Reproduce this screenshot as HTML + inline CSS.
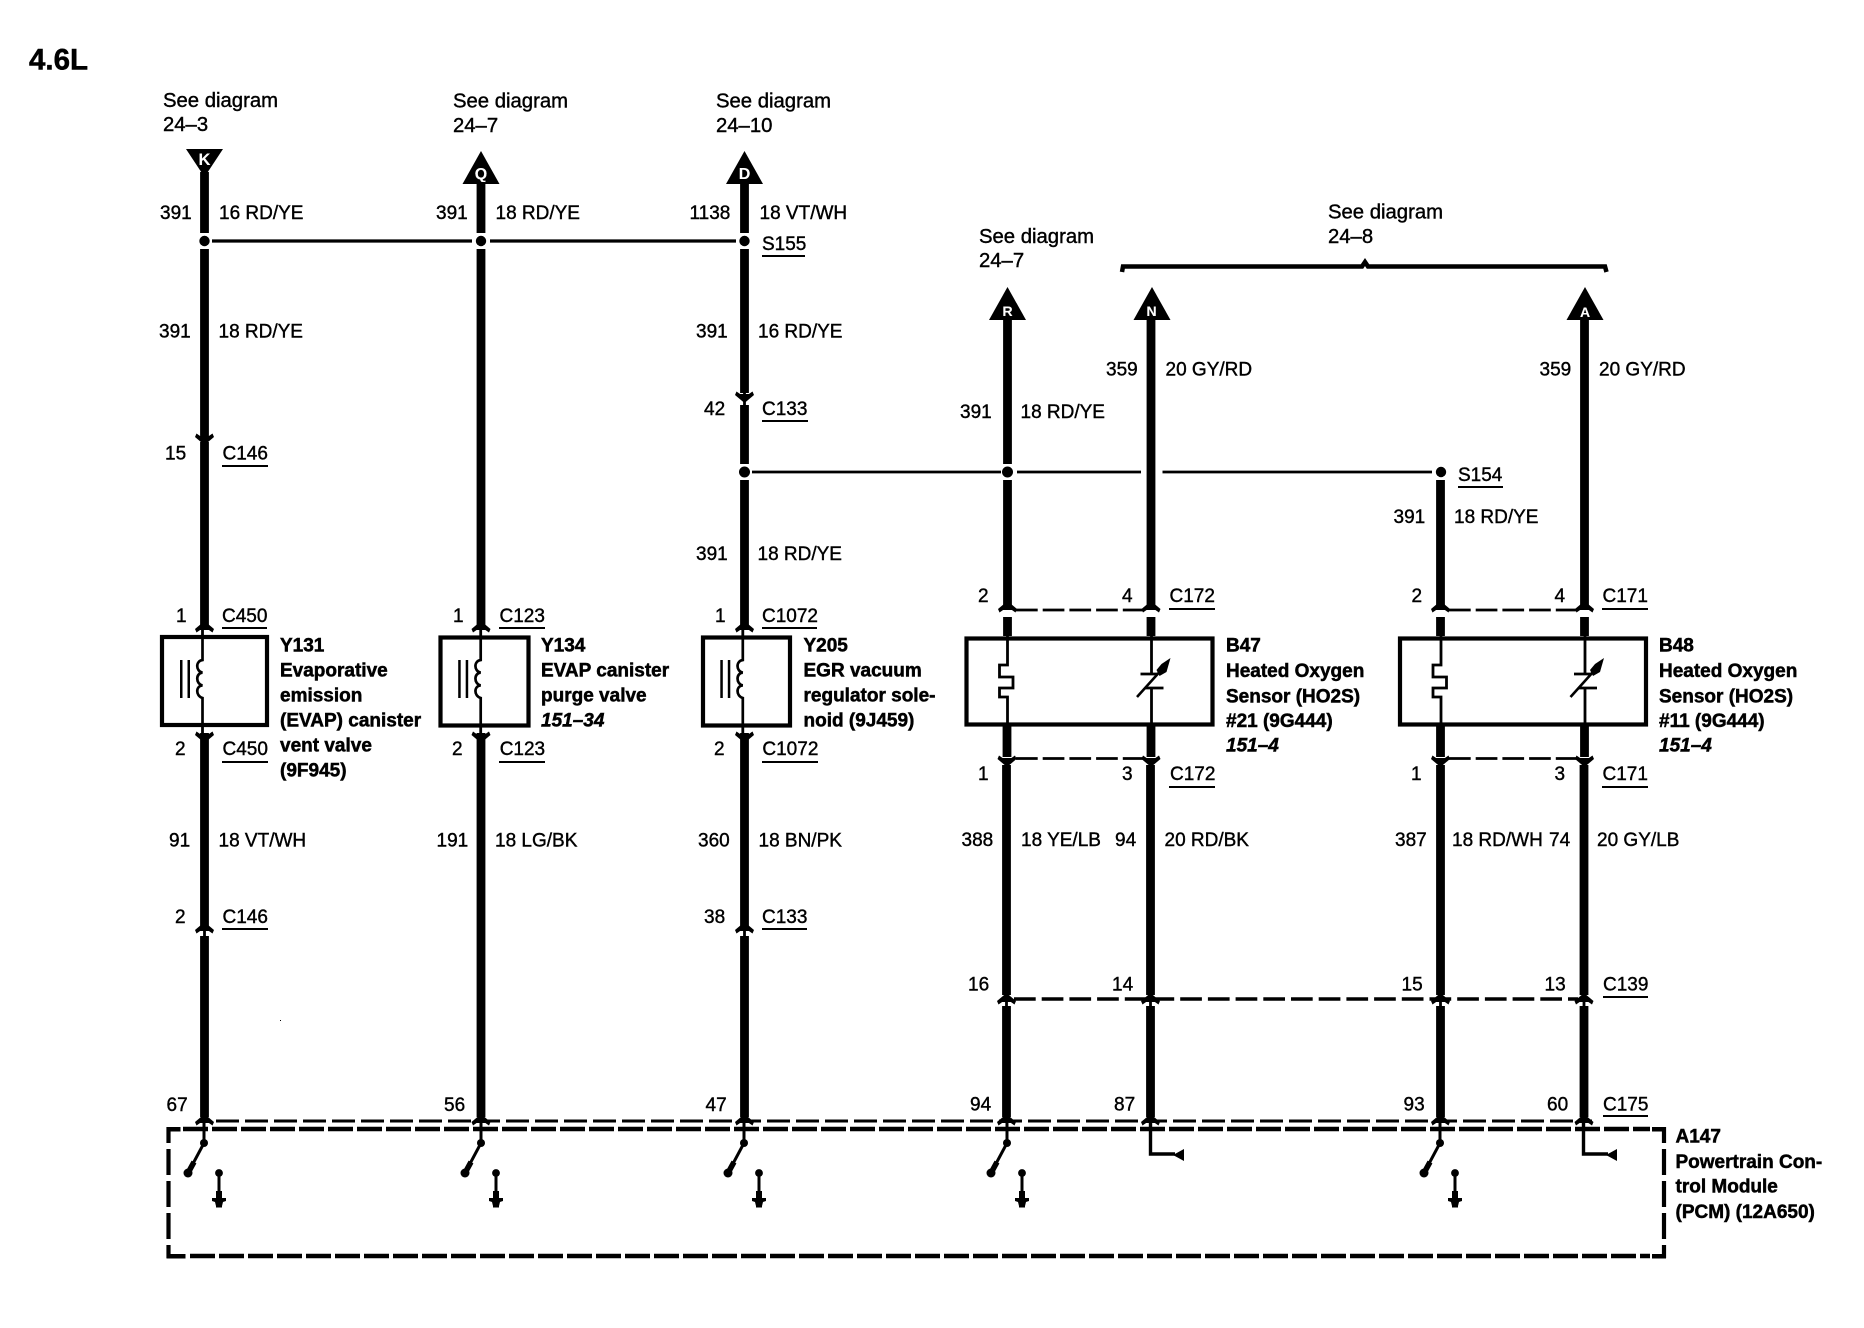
<!DOCTYPE html>
<html><head><meta charset="utf-8"><style>
html,body{margin:0;padding:0;background:#fff;width:1864px;height:1328px;overflow:hidden}
svg{display:block}
text{font-family:"Liberation Sans",Arial,sans-serif;font-size:19px;fill:#000;stroke:#000;stroke-width:.4}
.b{font-weight:bold;stroke-width:.5}
.i{font-weight:bold;font-style:italic;stroke-width:.5}
.s{font-size:20.3px}
.w{fill:#fff;stroke:#fff;font-weight:bold;font-size:16px;text-anchor:middle;stroke-width:.1}
.u{stroke:#000;stroke-width:2;fill:none}
.wire{stroke:#000;stroke-width:8.8;fill:none}
.thin{stroke:#000;stroke-width:2.8;fill:none}
.box{stroke:#000;stroke-width:4.2;fill:none}
</style></head><body>
<svg width="1864" height="1328" viewBox="0 0 1864 1328" xmlns="http://www.w3.org/2000/svg">
<defs>
<polygon id="up" points="0,-2 9.500,6 8,9.500 4.400,7 -4.400,7 -8,9.500 -9.500,6"/>
<polygon id="dn" points="0,2 9.500,-6 8,-9.500 4.400,-7 -4.400,-7 -8,-9.500 -9.500,-6"/>
<g id="sw">
<line x1="0" y1="1122" x2="0" y2="1143" stroke="#000" stroke-width="3"/>
<circle cx="0" cy="1143" r="4"/>
<line x1="0" y1="1143" x2="-16" y2="1173" stroke="#000" stroke-width="3"/>
<line x1="-10" y1="1162" x2="-16" y2="1173" stroke="#000" stroke-width="5.500"/>
<circle cx="-16" cy="1173" r="4.500"/>
<circle cx="15" cy="1173" r="3.900"/>
<line x1="15" y1="1173" x2="15" y2="1198" stroke="#000" stroke-width="3"/>
<rect x="12" y="1191" width="6" height="10" fill="#000"/>
<polygon points="8,1198 22,1198 22,1201 19,1202 18,1206 12,1206 11,1202 8,1201"/>
<rect x="12" y="1205" width="6" height="2.500" fill="#000"/>
</g>
<g id="coil">
<path d="M0,636V660 C-7,661 -7,671 0,672.700 C-7,673 -7,684 0,685.400 C-7,686 -7,696 0,698 V726" fill="none" stroke="#000" stroke-width="2.700"/>
<rect x="-22.500" y="660" width="2.500" height="38" fill="#000"/>
<rect x="-15" y="660" width="2.500" height="38" fill="#000"/>
</g>
<g id="heat">
<path d="M0,636 V665 H-8 V677 H5.500 V688 H-8 V697 H0 V726" fill="none" stroke="#000" stroke-width="2.800"/>
</g>
<g id="therm">
<path d="M0,636 V674 M0,688 V726" fill="none" stroke="#000" stroke-width="2.800"/>
<line x1="-11" y1="674" x2="6" y2="674" stroke="#000" stroke-width="2.800"/>
<line x1="-6" y1="688" x2="12" y2="688" stroke="#000" stroke-width="2.800"/>
<line x1="-14.500" y1="697" x2="8" y2="672" stroke="#000" stroke-width="2.600"/>
<polygon points="19,658 15,672 8,676 5,670 10,664"/>
</g>
</defs>

<text class="b" x="29" y="69.500" style="font-size:29.500px">4.6L</text>

<!-- see diagram -->
<text class="s" x="163" y="107">See diagram</text><text class="s" x="163" y="131">24–3</text>
<text class="s" x="453" y="107.500">See diagram</text><text class="s" x="453" y="132">24–7</text>
<text class="s" x="716" y="107.500">See diagram</text><text class="s" x="716" y="132">24–10</text>
<text class="s" x="979" y="243">See diagram</text><text class="s" x="979" y="267">24–7</text>
<text class="s" x="1328" y="218.500">See diagram</text><text class="s" x="1328" y="243">24–8</text>

<!-- brace -->
<path d="M1122,272 L1123,266.500 H1362 L1365,262 L1368,266.500 H1605 L1606.500,272" fill="none" stroke="#000" stroke-width="4.500"/>

<!-- triangles -->
<polygon points="186,149 223,149 204.500,177"/>
<polygon points="481,151 499.500,184 462.500,184"/>
<polygon points="744.500,151 763,184 726,184"/>
<polygon points="1007.500,287 1026,320 989,320"/>
<polygon points="1152,287 1170.500,320 1133.500,320"/>
<polygon points="1585,287 1603.500,320 1566.500,320"/>
<text class="w" x="204.500" y="165" style="font-size:16.500px">K</text>
<text class="w" x="481" y="179">Q</text>
<text class="w" x="744.500" y="179">D</text>
<text class="w" x="1007.500" y="316" style="font-size:14px">R</text>
<text class="w" x="1151.500" y="316" style="font-size:14px">N</text>
<text class="w" x="1585" y="317" style="font-size:14px">A</text>

<!-- wires -->
<path class="wire" d="M204.500,172V233M204.500,249V436M204.500,442V628M204.500,733V926M204.500,936V1117"/>
<path class="wire" d="M481,182V233M481,249V628M481,733V1117"/>
<path class="wire" d="M744.500,182V233M744.500,249V393M744.500,405V464M744.500,480V628M744.500,733V926M744.500,936V1117"/>
<path class="wire" d="M1007.500,318V464M1007.500,480V605M1007.500,617V636M1007,726V757M1006.500,765V995M1006.500,1006V1117"/>
<path class="wire" d="M1151,318V605M1151,617V636M1151,726V757M1150.500,765V995M1150.500,1006V1117"/>
<path class="wire" d="M1440.500,480V605M1440.500,617V636M1440.500,726V757M1440.500,765V995M1440.500,1006V1117"/>
<path class="wire" d="M1584.500,318V605M1584.500,617V636M1584.500,726V757M1584,765V995M1584,1006V1117"/>
<path class="thin" d="M204.500,433V445M204.500,924V940M744.500,390V408M744.500,924V940M1006.500,995V1010M1150.500,995V1010M1440.500,995V1010M1584,995V1010"/>

<!-- splices -->
<line x1="212" y1="241" x2="472" y2="241" stroke="#000" stroke-width="3.200"/>
<line x1="490" y1="241" x2="736" y2="241" stroke="#000" stroke-width="3.200"/>
<circle cx="204.500" cy="241" r="5.200"/><circle cx="481" cy="241" r="5.200"/><circle cx="744.500" cy="241" r="5.200"/>
<line x1="752" y1="472" x2="1001" y2="472" stroke="#000" stroke-width="2.700"/>
<line x1="1017" y1="472" x2="1141" y2="472" stroke="#000" stroke-width="2.700"/>
<line x1="1162.500" y1="472" x2="1432" y2="472" stroke="#000" stroke-width="2.700"/>
<circle cx="744.500" cy="472" r="5.500"/><circle cx="1007.500" cy="472" r="5.500"/><circle cx="1441" cy="472" r="5.200"/>

<!-- chevrons -->
<use href="#dn" x="204.500" y="443"/><use href="#dn" x="744.500" y="401"/>
<use href="#up" x="204.500" y="623"/><use href="#up" x="481" y="623"/><use href="#up" x="744.500" y="623"/>
<use href="#dn" x="204.500" y="741"/><use href="#dn" x="481" y="741"/><use href="#dn" x="744.500" y="741"/>
<use href="#up" x="204.500" y="924"/><use href="#up" x="744.500" y="924"/>
<use href="#up" x="204.500" y="1116"/><use href="#up" x="481" y="1116"/><use href="#up" x="744.500" y="1116"/>
<use href="#up" x="1006.500" y="1116"/><use href="#up" x="1150.500" y="1116"/><use href="#up" x="1440.500" y="1116"/><use href="#up" x="1584" y="1116"/>
<use href="#up" x="1007.500" y="603"/><use href="#up" x="1151" y="603"/><use href="#up" x="1440.500" y="603"/><use href="#up" x="1584.500" y="603"/>
<use href="#dn" x="1007" y="765"/><use href="#dn" x="1151" y="765"/><use href="#dn" x="1440.500" y="765"/><use href="#dn" x="1584.500" y="765"/>
<use href="#up" x="1006.500" y="995"/><use href="#up" x="1150.500" y="995"/><use href="#up" x="1440.500" y="995"/><use href="#up" x="1584" y="995"/>

<!-- component boxes -->
<rect class="box" x="162" y="637" width="105" height="88"/>
<rect class="box" x="440.500" y="637.500" width="88" height="88"/>
<rect class="box" x="703" y="637.500" width="87" height="88"/>
<rect class="box" x="966.500" y="638.500" width="246" height="86"/>
<rect class="box" x="1400" y="638.500" width="246" height="86"/>
<path class="thin" d="M202.500,628V636M480.700,628V636M742.800,628V636M202.500,726V733M480.700,726V733M742.800,726V733"/>
<use href="#coil" x="202.500"/><use href="#coil" x="480.700"/><use href="#coil" x="742.800"/>
<use href="#heat" x="1007.500"/><use href="#therm" x="1151.500"/>
<use href="#heat" x="1441"/><use href="#therm" x="1585"/>

<!-- connector dashes -->
<g fill="none" stroke="#000">
<line x1="1016" y1="610" x2="1143" y2="610" stroke-width="2.800" stroke-dasharray="21.700 5"/>
<line x1="1449" y1="610" x2="1576" y2="610" stroke-width="2.800" stroke-dasharray="21.700 5"/>
<line x1="1016" y1="758.500" x2="1143" y2="758.500" stroke-width="2.800" stroke-dasharray="21.700 5"/>
<line x1="1449" y1="758.500" x2="1576" y2="758.500" stroke-width="2.800" stroke-dasharray="21.700 5"/>
<line x1="1014" y1="999" x2="1578" y2="999" stroke-width="3.500" stroke-dasharray="21.700 6"/>
<line x1="216" y1="1121" x2="1592" y2="1121" stroke-width="3" stroke-dasharray="23 6"/>
<!-- PCM -->
<line x1="183" y1="1129" x2="1650" y2="1129" stroke-width="4.500" stroke-dasharray="25 4"/>
<line x1="190" y1="1256" x2="1650" y2="1256" stroke-width="4.500" stroke-dasharray="25 4"/>
<line x1="168.500" y1="1127" x2="168.500" y2="1258" stroke-width="4.200" stroke-dasharray="16 6 26 6 26 6 26 6 13"/>
<line x1="1664" y1="1127" x2="1664" y2="1258" stroke-width="4.200" stroke-dasharray="16 6 26 6 26 6 26 6 13"/>
</g>
<rect x="166.500" y="1127" width="14" height="4.500"/>
<rect x="1652" y="1127" width="14" height="4.500"/>
<rect x="166.500" y="1254" width="19" height="4.500"/>
<rect x="1652" y="1254" width="14" height="4.500"/>

<!-- switches -->
<use href="#sw" x="204"/><use href="#sw" x="481"/><use href="#sw" x="744"/><use href="#sw" x="1007"/><use href="#sw" x="1440"/>
<!-- signal returns -->
<path d="M1150.500,1122V1154H1175" fill="none" stroke="#000" stroke-width="3.400"/>
<polygon points="1173,1155 1184,1149 1184,1161"/>
<path d="M1583.500,1122V1154H1608" fill="none" stroke="#000" stroke-width="3.400"/>
<polygon points="1606,1155 1617,1149 1617,1161"/>
<rect x="280" y="1020" width="1" height="1"/>

<!-- wire labels -->
<text x="160" y="219">391</text><text x="219" y="219">16 RD/YE</text>
<text x="436" y="219">391</text><text x="495.500" y="219">18 RD/YE</text>
<text x="689.500" y="219">1138</text><text x="759.500" y="219">18 VT/WH</text>
<text x="762" y="250">S155</text><line class="u" x1="762" y1="256" x2="805" y2="256"/>
<text x="159" y="337.500">391</text><text x="218.500" y="337.500">18 RD/YE</text>
<text x="696" y="337.500">391</text><text x="758" y="337.500">16 RD/YE</text>
<text x="704" y="415">42</text><text x="762" y="415">C133</text><line class="u" x1="762" y1="421" x2="808" y2="421"/>
<text x="165" y="459.500">15</text><text x="222.500" y="459.500">C146</text><line class="u" x1="222" y1="466" x2="268" y2="466"/>
<text x="696" y="560">391</text><text x="757.500" y="560">18 RD/YE</text>
<text x="176" y="622">1</text><text x="222" y="622">C450</text><line class="u" x1="222" y1="628" x2="267" y2="628"/>
<text x="453" y="622">1</text><text x="499.500" y="622">C123</text><line class="u" x1="499" y1="628" x2="545" y2="628"/>
<text x="715" y="622">1</text><text x="762" y="622">C1072</text><line class="u" x1="762" y1="628" x2="817" y2="628"/>
<text x="175" y="755">2</text><text x="222.500" y="755">C450</text><line class="u" x1="222" y1="762" x2="268" y2="762"/>
<text x="452" y="755">2</text><text x="499.700" y="755">C123</text><line class="u" x1="499" y1="762" x2="545" y2="762"/>
<text x="714" y="755">2</text><text x="762.400" y="755">C1072</text><line class="u" x1="762" y1="762" x2="818" y2="762"/>
<text x="169" y="846.500">91</text><text x="218.500" y="846.500">18 VT/WH</text>
<text x="436.500" y="846.500">191</text><text x="495" y="846.500">18 LG/BK</text>
<text x="698" y="846.500">360</text><text x="758.500" y="846.500">18 BN/PK</text>
<text x="175" y="923">2</text><text x="222.500" y="923">C146</text><line class="u" x1="222" y1="929" x2="268" y2="929"/>
<text x="704" y="923">38</text><text x="762" y="923">C133</text><line class="u" x1="762" y1="929" x2="807" y2="929"/>
<text x="166.500" y="1111">67</text><text x="444" y="1111">56</text><text x="705.500" y="1111">47</text>
<text x="960" y="418">391</text><text x="1020.500" y="418">18 RD/YE</text>
<text x="1106" y="375.500">359</text><text x="1165.500" y="375.500">20 GY/RD</text>
<text x="1539.500" y="375.500">359</text><text x="1599" y="375.500">20 GY/RD</text>
<text x="1458" y="481">S154</text><line class="u" x1="1458" y1="487" x2="1503" y2="487"/>
<text x="1393.500" y="523">391</text><text x="1454" y="523">18 RD/YE</text>
<text x="978" y="602">2</text><text x="1122" y="602">4</text><text x="1169.500" y="602">C172</text><line class="u" x1="1169" y1="609" x2="1215" y2="609"/>
<text x="1411.500" y="602">2</text><text x="1554.500" y="602">4</text><text x="1602.500" y="602">C171</text><line class="u" x1="1602" y1="609" x2="1648" y2="609"/>
<text x="978" y="780">1</text><text x="1122" y="780">3</text><text x="1170" y="780">C172</text><line class="u" x1="1169" y1="787" x2="1215" y2="787"/>
<text x="1411" y="780">1</text><text x="1554.500" y="780">3</text><text x="1602.500" y="780">C171</text><line class="u" x1="1602" y1="787" x2="1648" y2="787"/>
<text x="961.500" y="846">388</text><text x="1021" y="846">18 YE/LB</text><text x="1115" y="846">94</text><text x="1164.500" y="846">20 RD/BK</text>
<text x="1395" y="846">387</text><text x="1452" y="846">18 RD/WH</text><text x="1549" y="846">74</text><text x="1597" y="846">20 GY/LB</text>
<text x="968" y="990.500">16</text><text x="1112" y="990.500">14</text><text x="1401.500" y="990.500">15</text><text x="1544.500" y="990.500">13</text><text x="1603" y="990.500">C139</text><line class="u" x1="1603" y1="997" x2="1648" y2="997"/>
<text x="970" y="1110.500">94</text><text x="1114" y="1110.500">87</text><text x="1403.500" y="1110.500">93</text><text x="1547" y="1110.500">60</text><text x="1603" y="1110.500">C175</text><line class="u" x1="1603" y1="1116" x2="1648" y2="1116"/>

<!-- component text -->
<text class="b" x="280" y="651.500">Y131</text>
<text class="b" x="280" y="676.500">Evaporative</text>
<text class="b" x="280" y="701.500">emission</text>
<text class="b" x="280" y="726.500">(EVAP) canister</text>
<text class="b" x="280" y="751.500">vent valve</text>
<text class="b" x="280" y="776.500">(9F945)</text>
<text class="b" x="541" y="651.500">Y134</text>
<text class="b" x="541" y="676.500">EVAP canister</text>
<text class="b" x="541" y="701.500">purge valve</text>
<text class="i" x="541" y="726.500">151–34</text>
<text class="b" x="803.500" y="651.500">Y205</text>
<text class="b" x="803.500" y="676.500">EGR vacuum</text>
<text class="b" x="803.500" y="701.500">regulator sole-</text>
<text class="b" x="803.500" y="726.500">noid (9J459)</text>
<text class="b" x="1226" y="651.500">B47</text>
<text class="b" x="1226" y="677">Heated Oxygen</text>
<text class="b" x="1226" y="702.500">Sensor (HO2S)</text>
<text class="b" x="1226" y="727">#21 (9G444)</text>
<text class="i" x="1226" y="751.500">151–4</text>
<text class="b" x="1659" y="651.500">B48</text>
<text class="b" x="1659" y="677">Heated Oxygen</text>
<text class="b" x="1659" y="702.500">Sensor (HO2S)</text>
<text class="b" x="1659" y="727">#11 (9G444)</text>
<text class="i" x="1659" y="751.500">151–4</text>
<text class="b" x="1675.500" y="1142.500">A147</text>
<text class="b" x="1675.500" y="1168">Powertrain Con-</text>
<text class="b" x="1675.500" y="1192.500">trol Module</text>
<text class="b" x="1675.500" y="1218">(PCM) (12A650)</text>
</svg>
</body></html>
